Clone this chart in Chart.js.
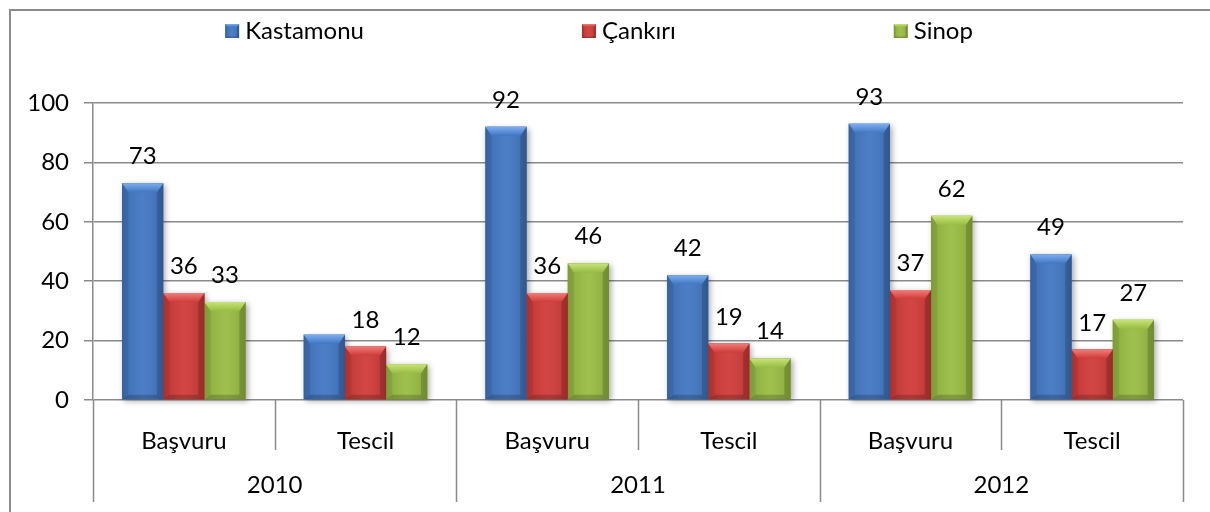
<!DOCTYPE html>
<html>
<head>
<meta charset="utf-8">
<script src="https://cdn.jsdelivr.net/npm/chart.js@4.4.1/dist/chart.umd.min.js"></script>
<style>
    html, body { margin: 0; padding: 0; background: #fff; }
    #wrap { position: relative; width: 1210px; height: 512px; }
</style>
</head>
<body>
<div id="wrap"><canvas id="chart"></canvas></div>
<script>
    // Data
    const categories = ['Başvuru', 'Tescil', 'Başvuru', 'Tescil', 'Başvuru', 'Tescil'];
    const years = ['2010', '2011', '2012'];
    const kastamonu = [73, 22, 92, 42, 93, 49];
    const cankiri = [36, 18, 36, 19, 37, 17];
    const sinop = [33, 12, 46, 14, 62, 27];
    const yMin = 0, yMax = 100, yStep = 20;
    // the original shows no value label on these [dataset, index] bars
    const hiddenLabels = [[0, 1]];

    const FONT = "Lato, 'Open Sans', sans-serif";
    const FONT_SIZE = 24;
    const GRID = '#8a8a8a';

    const palettes = [
        { base: '#4176c2', light: '#7eaef0', dark: '#2a5595' },
        { base: '#cf3a37', light: '#f07c78', dark: '#962423' },
        { base: '#98bc42', light: '#c8e47a', dark: '#6f8c2a' }
    ];

    function barBox(bar) {
        const p = bar.getProps(['x', 'y', 'base', 'width'], true);
        const L = p.x - p.width / 2, R = p.x + p.width / 2;
        return { L: L, R: R, T: Math.min(p.y, p.base), B: Math.max(p.y, p.base) };
    }

    // Shadows under the bars
    const barShadow = {
        id: 'barShadow',
        beforeDatasetsDraw(chart) {
            const ctx = chart.ctx;
            ctx.save();
            ctx.shadowColor = 'rgba(0,0,0,0.35)';
            ctx.shadowBlur = 6;
            ctx.shadowOffsetX = 2;
            ctx.shadowOffsetY = 2;
            chart.data.datasets.forEach(function(ds, di) {
                chart.getDatasetMeta(di).data.forEach(function(bar) {
                    const b = barBox(bar);
                    ctx.fillStyle = palettes[di].base;
                    ctx.fillRect(b.L, b.T, b.R - b.L, b.B - b.T);
                });
            });
            ctx.restore();
        }
    };

    function drawBevel(ctx, b, pal) {
        const w = b.R - b.L, h = b.B - b.T;
        const bv = Math.min(9, w * 0.22, h / 2);
        // horizontal shading
        const g = ctx.createLinearGradient(b.L, 0, b.R, 0);
        g.addColorStop(0, 'rgba(0,0,0,0.10)');
        g.addColorStop(0.5, 'rgba(255,255,255,0.06)');
        g.addColorStop(1, 'rgba(0,0,0,0.12)');
        ctx.fillStyle = g;
        ctx.fillRect(b.L, b.T, w, h);
        // left side
        ctx.fillStyle = 'rgba(0,0,0,0.08)';
        ctx.beginPath();
        ctx.moveTo(b.L, b.T); ctx.lineTo(b.L + bv * 0.7, b.T + bv);
        ctx.lineTo(b.L + bv * 0.7, b.B - bv * 0.5); ctx.lineTo(b.L, b.B);
        ctx.closePath(); ctx.fill();
        // right side
        ctx.fillStyle = 'rgba(0,0,0,0.16)';
        ctx.beginPath();
        ctx.moveTo(b.R, b.T); ctx.lineTo(b.R - bv * 0.7, b.T + bv);
        ctx.lineTo(b.R - bv * 0.7, b.B - bv * 0.5); ctx.lineTo(b.R, b.B);
        ctx.closePath(); ctx.fill();
        // bottom
        ctx.fillStyle = 'rgba(0,0,0,0.18)';
        ctx.beginPath();
        ctx.moveTo(b.L, b.B); ctx.lineTo(b.L + bv * 0.7, b.B - bv * 0.5);
        ctx.lineTo(b.R - bv * 0.7, b.B - bv * 0.5); ctx.lineTo(b.R, b.B);
        ctx.closePath(); ctx.fill();
        // top bevel
        const tg = ctx.createLinearGradient(0, b.T, 0, b.T + bv);
        tg.addColorStop(0, pal.light);
        tg.addColorStop(1, pal.base);
        ctx.fillStyle = tg;
        ctx.beginPath();
        ctx.moveTo(b.L, b.T); ctx.lineTo(b.R, b.T);
        ctx.lineTo(b.R - bv * 0.7, b.T + bv); ctx.lineTo(b.L + bv * 0.7, b.T + bv);
        ctx.closePath(); ctx.fill();
    }

    // Bevel overlay and value labels
    const barDecor = {
        id: 'barDecor',
        afterDatasetsDraw(chart) {
            const ctx = chart.ctx;
            ctx.save();
            chart.data.datasets.forEach(function(ds, di) {
                chart.getDatasetMeta(di).data.forEach(function(bar) {
                    drawBevel(ctx, barBox(bar), palettes[di]);
                });
            });
            ctx.font = FONT_SIZE + 'px ' + FONT;
            ctx.fillStyle = '#000';
            ctx.textAlign = 'center';
            ctx.textBaseline = 'alphabetic';
            chart.data.datasets.forEach(function(ds, di) {
                chart.getDatasetMeta(di).data.forEach(function(bar, i) {
                    const hidden = hiddenLabels.some(function(h) { return h[0] === di && h[1] === i; });
                    if (hidden) return;
                    const b = barBox(bar);
                    ctx.fillText(String(ds.data[i]), (b.L + b.R) / 2, b.T - 19);
                });
            });
            ctx.restore();
        }
    };

    // Frame, legend and the two-level category separators
    const frame = {
        id: 'frame',
        beforeDraw(chart) {
            const ctx = chart.ctx;
            ctx.save();
            ctx.fillStyle = '#fff';
            ctx.fillRect(0, 0, chart.width, chart.height);
            ctx.strokeStyle = '#8c8c8c';
            ctx.lineWidth = 2;
            ctx.strokeRect(10, 10, chart.width + 40, chart.height + 40);
            ctx.restore();
        },
        afterDraw(chart) {
            const ctx = chart.ctx;
            const area = chart.chartArea;
            const x = chart.scales.x, x2 = chart.scales.x2;
            ctx.save();
            ctx.strokeStyle = GRID;
            ctx.lineWidth = 1.5;
            const n = categories.length;
            const perYear = n / years.length;
            for (let i = 0; i <= n; i++) {
                let px;
                if (i === 0) px = area.left;
                else if (i === n) px = area.right;
                else px = (x.getPixelForValue(i - 1) + x.getPixelForValue(i)) / 2;
                const bottom = (i % perYear === 0) ? x2.bottom : x.bottom - 4;
                ctx.beginPath();
                ctx.moveTo(Math.round(px) + 0.5, area.bottom);
                ctx.lineTo(Math.round(px) + 0.5, bottom);
                ctx.stroke();
            }

            // legend
            ctx.font = FONT_SIZE + 'px ' + FONT;
            ctx.textBaseline = 'middle';
            ctx.textAlign = 'left';
            const box = 14, boxGap = 6, itemGap = 218, cy = 31;
            const items = chart.data.datasets.map(function(ds, di) {
                return { text: ds.label, w: box + boxGap + ctx.measureText(ds.label).width, pal: palettes[di] };
            });
            const total = items.reduce(function(s, it) { return s + it.w; }, 0) + itemGap * (items.length - 1);
            let lx = (chart.width - total) / 2 - 6;
            items.forEach(function(it) {
                const b = { L: lx, R: lx + box, T: cy - box / 2, B: cy + box / 2 };
                ctx.fillStyle = it.pal.base;
                ctx.fillRect(b.L, b.T, box, box);
                drawBevel(ctx, b, it.pal);
                ctx.fillStyle = '#000';
                ctx.fillText(it.text, lx + box + boxGap, cy);
                lx += it.w + itemGap;
            });
            ctx.restore();
        }
    };

    const ctx = document.getElementById('chart').getContext('2d');
    new Chart(ctx, {
        type: 'bar',
        data: {
            labels: categories,
            datasets: [
                { label: 'Kastamonu', data: kastamonu, backgroundColor: palettes[0].base },
                { label: 'Çankırı', data: cankiri, backgroundColor: palettes[1].base },
                { label: 'Sinop', data: sinop, backgroundColor: palettes[2].base }
            ]
        },
        options: {
            responsive: true,
            maintainAspectRatio: false,
            animation: false,
            layout: { padding: { left: 0, right: 27, top: 103, bottom: 10 } },
            datasets: { bar: { categoryPercentage: 0.68, barPercentage: 1.0 } },
            scales: {
                x: {
                    position: 'bottom',
                    weight: 0,
                    grid: { display: false },
                    border: { display: false },
                    ticks: { color: '#000', font: { family: FONT, size: FONT_SIZE }, padding: 19, maxRotation: 0 },
                    afterFit: function(scale) { scale.height = 54; }
                },
                x2: {
                    type: 'category',
                    position: 'bottom',
                    weight: 1,
                    labels: years,
                    offset: true,
                    grid: { display: false },
                    border: { display: false },
                    ticks: { color: '#000', font: { family: FONT, size: FONT_SIZE }, padding: 9, maxRotation: 0 },
                    afterFit: function(scale) { scale.height = 48; }
                },
                y: {
                    min: yMin,
                    max: yMax,
                    ticks: { stepSize: yStep, color: '#000', font: { family: FONT, size: FONT_SIZE }, padding: 15 },
                    grid: { color: GRID, lineWidth: 1.5, tickLength: 9 },
                    border: { display: true, color: GRID, width: 1.5 },
                    afterFit: function(scale) { scale.width = 93; }
                }
            },
            plugins: {
                legend: { display: false },
                tooltip: { enabled: false }
            }
        },
        plugins: [barShadow, barDecor, frame]
    });
</script>
</body>
</html>
